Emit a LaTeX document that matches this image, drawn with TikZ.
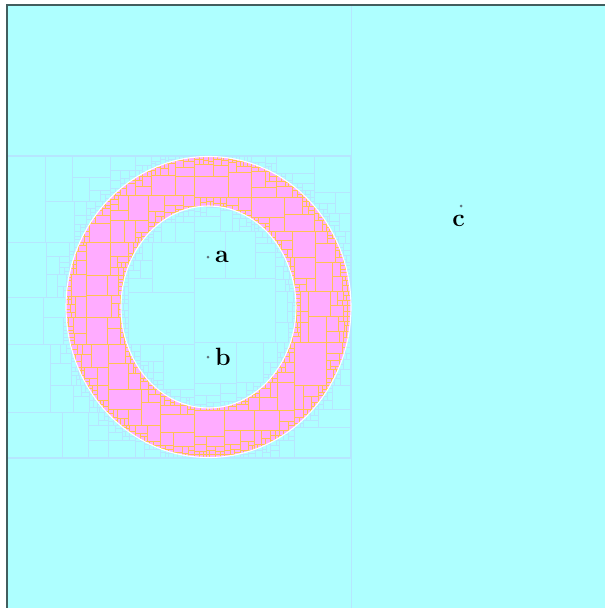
\documentclass[tikz,border=0pt]{standalone}
\usepackage{tikz}
\definecolor{bgcyan}{RGB}{174,255,255}
\definecolor{ringpink}{RGB}{255,172,255}
\definecolor{cellorange}{RGB}{255,194,80}
\definecolor{faintblue}{RGB}{182,230,255}
\definecolor{framedark}{RGB}{66,94,94}
\definecolor{dotgray}{RGB}{96,118,128}
\tikzset{
  faint/.style={draw=faintblue, line width=0.7pt},
  orangecell/.style={draw=cellorange, line width=0.95pt},
  ptdot/.style={circle, fill=dotgray, inner sep=0pt, minimum size=3pt},
  lbl/.style={font=\fontsize{25}{25}\selectfont\bfseries, inner sep=1pt}
}
\newcount\kdn
\newcount\kdi
\newcommand\elld[8]{%
  \pgfmathsetmacro\enx{max(#1,min(#5,#3))}%
  \pgfmathsetmacro\eny{max(#2,min(#6,#4))}%
  \pgfmathsetmacro\eax{(\enx-#5)/#7}%
  \pgfmathsetmacro\eay{(\eny-#6)/#8}%
  \pgfmathsetmacro\edmin{\eax*\eax+\eay*\eay}%
  \pgfmathsetmacro\efx{max(abs(#1-#5),abs(#3-#5))/#7}%
  \pgfmathsetmacro\efy{max(abs(#2-#6),abs(#4-#6))/#8}%
  \pgfmathsetmacro\edmax{\efx*\efx+\efy*\efy}%
}
\newcommand\kdcell[4]{%
  \pgfmathsetmacro\kw{#3-#1}%
  \pgfmathsetmacro\kh{#4-#2}%
  \pgfmathsetmacro\km{max(\kw,\kh)}%
  \elld{#1}{#2}{#3}{#4}{208.5}{307}{142.5}{150.5}%
  \let\oMin\edmin \let\oMax\edmax
  \elld{#1}{#2}{#3}{#4}{208.5}{307}{87.5}{101}%
  \let\iMin\edmin \let\iMax\edmax
  \pgfmathtruncatemacro\kcross{or(and(\oMin<1,\oMax>1),and(\iMin<1,\iMax>1))}%
  \pgfmathtruncatemacro\ktouch{and(\oMin<1,\iMax>1)}%
  \pgfmathtruncatemacro\ksplit{or(\km>110,or(and(\ktouch,\km>44),and(\kcross,\km>6.5)))}%
  \pgfmathtruncatemacro\khoriz{\kw>\kh}%
  \ifnum\ksplit=1\relax
    \pgfmathsetmacro\kf{0.36+0.28*rnd}%
    \ifnum\khoriz=1\relax
      \pgfmathsetmacro\ks{#1+\kf*\kw}%
      \edef\knext{\noexpand\kdcell{#1}{#2}{\ks}{#4}\noexpand\kdcell{\ks}{#2}{#3}{#4}}%
    \else
      \pgfmathsetmacro\ks{#2+\kf*\kh}%
      \edef\knext{\noexpand\kdcell{#1}{#2}{#3}{\ks}\noexpand\kdcell{#1}{\ks}{#3}{#4}}%
    \fi
  \else
    \global\advance\kdn by 1\relax
    \expandafter\xdef\csname kdleaf\the\kdn\endcsname{{#1}{#2}{#3}{#4}}%
    \def\knext{}%
  \fi
  \knext
}
\newcommand\drawleafo[4]{\draw[orangecell] (#1,#2) rectangle (#3,#4);}
\newcommand\drawleaff[4]{\draw[faint] (#1,#2) rectangle (#3,#4);}
\pgfmathsetseed{11}
\kdn=0
\kdcell{7}{156}{351}{458}
\begin{document}
\begin{tikzpicture}[x=1pt,y=-1pt]
\useasboundingbox (0,0) rectangle (605,608);
\fill[white] (0,0) rectangle (605,608);
\fill[bgcyan] (7,5) rectangle (612,612);
% faint structure
\draw[faint] (351,5) -- (351,612);
\kdi=0
\loop\ifnum\kdi<\kdn
  \advance\kdi by 1\relax
  \expandafter\expandafter\expandafter\drawleaff\csname kdleaf\the\kdi\endcsname
\repeat
\draw[faint, line width=1.6pt] (7,156) rectangle (351,458);
% ring
\coordinate (ctr) at (208.5,307);
\begin{scope}[even odd rule]
  \clip (ctr) ellipse [x radius=142.5pt, y radius=150.5pt]
        (ctr) ellipse [x radius=87.5pt, y radius=101pt];
  \fill[ringpink] (7,156) rectangle (351,458);
  \kdi=0
  \loop\ifnum\kdi<\kdn
    \advance\kdi by 1\relax
    \expandafter\expandafter\expandafter\drawleafo\csname kdleaf\the\kdi\endcsname
  \repeat
\end{scope}
\draw[white, line width=1.1pt] (ctr) ellipse [x radius=142.5pt, y radius=150.5pt];
\draw[white, line width=1.1pt] (ctr) ellipse [x radius=87.5pt, y radius=101pt];
% frame
\draw[framedark, line width=2pt] (7,612) -- (7,5) -- (612,5);
% points
\node[ptdot] (pa) at (208,257) {};
\node[ptdot] (pb) at (208,357) {};
\node[ptdot] (pc) at (461,206) {};
\node[lbl, anchor=west] (la) at ([xshift=6pt]pa.center) {a};
\node[lbl, anchor=west] (lb) at ([xshift=6pt]pb.center) {b};
\node[lbl, anchor=north] (lc) at ([xshift=-2.5pt,yshift=-8pt]pc.center) {c};
\end{tikzpicture}
\end{document}
